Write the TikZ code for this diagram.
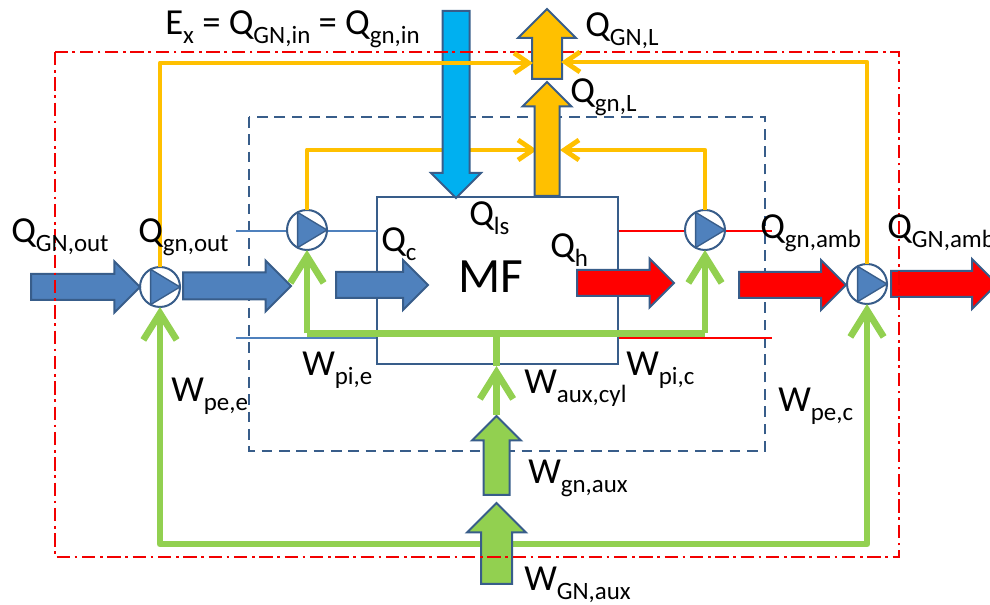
\documentclass[tikz,border=0pt]{standalone}
\usepackage{fontspec}
\setmainfont{Carlito}
\usepackage{tikz}
\usetikzlibrary{calc,arrows.meta,shapes.arrows}

\definecolor{edgeblue}{HTML}{385D8A}
\definecolor{flowblue}{HTML}{4F81BD}
\definecolor{inblue}{HTML}{00B0F0}
\definecolor{flowred}{HTML}{FF0000}
\definecolor{floworange}{HTML}{FFC000}
\definecolor{flowgreen}{HTML}{92D050}

\newcommand{\subl}[1]{\raisebox{-6.75pt}{\fontsize{18.7}{18.7}\selectfont #1}}

\tikzset{
  lbl/.style={anchor=base west,inner sep=0pt,font=\fontsize{27.5}{27.5}\selectfont},
  % length, head width, half of the shaft width
  blockarrow/.style n args={3}{single arrow,draw=edgeblue,line width=1.5pt,anchor=tail,
    minimum height=#1*0.75pt,inner sep=#3*0.75pt,
    single arrow head extend=(#2/2-#3)*0.75pt},
  pumpcircle/.style={circle,draw=edgeblue,fill=white,line width=1.5pt,minimum size=30pt,inner sep=0pt,outer sep=0pt},
  thinblue/.style={draw=flowblue,line width=1pt},
  thinred/.style={draw=flowred,line width=1pt},
  orangeline/.style={draw=floworange,line width=3.6pt,line join=round,
    -{Straight Barb[length=11pt,width=15pt,line width=3.6pt]}},
  greenline/.style={draw=flowgreen,line width=5pt,line join=round,
    -{Straight Barb[length=20pt,width=25pt,line width=5pt]}}
}

\begin{document}
\begin{tikzpicture}[x=0.75pt,y=-0.75pt]
  \clip (0,0) rectangle (990,605);

  \draw[edgeblue,line width=1.5pt,dash pattern=on 8pt off 5pt] (249,117) rectangle (765,451);

  \node[draw=edgeblue,line width=1.5pt,fill=white,minimum width=180.75pt,minimum height=125.25pt,inner sep=0pt] (mf) at (497.5,280.5) {};

  \draw[thinblue] (236,231) -- (377,231);
  \draw[thinblue] (236,338) -- (mf.west |- 0,338);
  \draw[thinred] (mf.east |- 0,231) -- (772,231);
  \draw[thinred] (mf.east |- 0,338) -- (772,338);

  \foreach \name/\x/\y in {pumpout/160/287,pumpe/307/230,pumpc/705/230,pumpamb/867/284} {
    \node[pumpcircle] (\name) at (\x,\y) {};
    \fill[flowblue,draw=edgeblue,line width=1pt] (\name.0) -- (\name.118) -- (\name.-118) -- cycle;
  };

  \coordinate (innerL) at (537,150);
  \coordinate (innerR) at (560,150);
  \coordinate (innerBus) at (496.5,333.5);
  \coordinate (outerBus) at (496.5,544);

  \draw[orangeline] (pumpe) -- (pumpe |- innerL) -- (innerL);
  \draw[orangeline] (pumpc) -- (pumpc |- innerR) -- (innerR);

  % block arrows
  \node[blockarrow={109}{49}{12},fill=flowblue] (arrowGNout) at (30,287) {};
  \node[blockarrow={108}{49}{12.5},fill=flowblue] (arrowgnout) at (182,286) {};
  \node[blockarrow={92}{48}{12},fill=flowblue] (arrowc) at (335,285) {};
  \node[blockarrow={97}{47}{12},fill=flowred] (arrowh) at (576,283) {};
  \node[blockarrow={107}{48}{12},fill=flowred] (arrowgnamb) at (738,285) {};
  \node[blockarrow={106}{48}{12},fill=flowred] (arrowGNamb) at (890,284) {};
  \node[blockarrow={187}{48}{12.5},fill=inblue,shape border rotate=270] (arrowin) at (456,10) {};
  \node[blockarrow={114}{47}{11.5},fill=floworange,shape border rotate=90] (arrowgnL) at (547,197) {};
  \node[blockarrow={79}{47}{12},fill=flowgreen,shape border rotate=90] (arrowgnaux) at (496.5,496) {};

  \draw[greenline,arrows=-] (pumpe |- innerBus) -- (pumpc |- innerBus);
  \draw[greenline] (pumpe |- innerBus) -- (pumpe);
  \draw[greenline] (pumpc |- innerBus) -- (pumpc);
  \coordinate (innerTip) at (496.5,366);
  \draw[greenline] (arrowgnaux.tip) -- (innerTip);
  \draw[greenline,arrows=-] (innerTip) -- (innerBus);

  \draw[greenline] (outerBus) -- (pumpout |- outerBus) -- (pumpout);
  \draw[greenline] (outerBus) -- (pumpamb |- outerBus) -- (pumpamb);
  \node[blockarrow={81}{57}{14.5},fill=flowgreen,shape border rotate=90] (arrowGNaux) at (496.5,585) {};

  \draw[red!95!black,line width=1.5pt,dash pattern=on 10pt off 3.5pt on 2pt off 3.5pt] (55,52) rectangle (899,557);

  \node[blockarrow={70}{56}{14},fill=floworange,shape border rotate=90] (arrowGNL) at (547,80) {};

  \coordinate (outerL) at (533,63);
  \coordinate (outerR) at (561,62);
  \draw[orangeline] (pumpout) -- (pumpout |- outerL) -- (outerL);
  \draw[orangeline] (pumpamb) -- (pumpamb |- outerR) -- (outerR);

  \node[anchor=base,inner sep=0pt,font=\fontsize{37}{37}\selectfont] (mflabel) at (490.5,293) {MF};

  \node[lbl] (QGNout) at (11,243) {Q\subl{GN,out}};
  \node[lbl] (Qgnout) at (138,243) {Q\subl{gn,out}};
  \node[lbl] (Qc) at (381,252) {Q\subl{c}};
  \node[lbl] (Qls) at (469,226) {Q\subl{ls}};
  \node[lbl] (Qh) at (550,258) {Q\subl{h}};
  \node[lbl] (Qgnamb) at (760,239) {Q\subl{gn,amb}};
  \node[lbl] (QGNamb) at (887,239) {Q\subl{GN,amb}};
  \node[lbl] (QGNL) at (585,37) {Q\subl{GN,L}};
  \node[lbl] (QgnL) at (570,103) {Q\subl{gn,L}};
  \node[lbl] (Ex) at (165,35) {E\subl{x} = Q\subl{GN,in} = Q\subl{gn,in}};
  \node[lbl] (Wpee) at (171,402) {W\subl{pe,e}};
  \node[lbl] (Wpie) at (302,376) {W\subl{pi,e}};
  \node[lbl] (Wauxcyl) at (524,394) {W\subl{aux,cyl}};
  \node[lbl] (Wpic) at (626,376) {W\subl{pi,c}};
  \node[lbl] (Wpec) at (778,412) {W\subl{pe,c}};
  \node[lbl] (Wgnaux) at (528,484) {W\subl{gn,aux}};
  \node[lbl] (WGNaux) at (524,591) {W\subl{GN,aux}};
\end{tikzpicture}
\end{document}
